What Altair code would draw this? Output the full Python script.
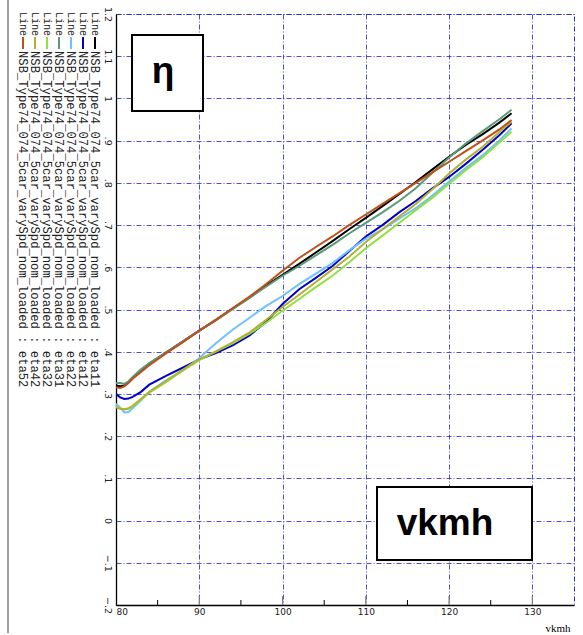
import altair as alt
import pandas as pd

# ---- data ----
x_vals = [80, 80.5, 81, 81.5, 82, 83, 84, 86, 88, 90, 92, 94, 96, 98, 100, 102, 104,
          106, 108, 110, 112, 114, 116, 118, 120, 122, 124, 126, 127.5]

eta11 = [.320, .318, .320, .328, .338, .357, .372, .398, .424, .450, .475, .502, .528, .556, .582,
         .608, .635, .662, .690, .717, .745, .773, .802, .832, .862, .890, .915, .942, .965]
eta12 = [.300, .292, .288, .289, .293, .305, .322, .343, .362, .382, .397, .415, .438, .470, .513,
         .548, .575, .603, .638, .673, .700, .730, .757, .787, .814, .845, .878, .912, .941]
eta22 = [.277, .268, .256, .257, .266, .285, .305, .332, .355, .385, .420, .452, .480, .508, .532,
         .560, .585, .610, .640, .668, .690, .715, .740, .770, .803, .835, .865, .900, .929]
eta31 = [.326, .326, .324, .330, .340, .358, .373, .398, .424, .450, .475, .501, .527, .554, .580,
         .603, .628, .653, .680, .705, .730, .757, .787, .824, .860, .893, .922, .950, .973]
eta32 = [.272, .266, .263, .265, .270, .287, .303, .328, .355, .380, .400, .420, .442, .468, .497,
         .525, .553, .580, .612, .645, .675, .705, .735, .765, .798, .830, .860, .895, .921]
eta42 = [.268, .265, .264, .266, .272, .288, .305, .330, .357, .382, .401, .422, .445, .475, .506,
         .535, .565, .595, .625, .660, .690, .720, .750, .785, .822, .855, .885, .920, .945]
eta52 = [.315, .314, .318, .326, .336, .352, .368, .396, .422, .450, .476, .503, .530, .560, .592,
         .622, .648, .673, .700, .725, .750, .775, .800, .825, .850, .875, .900, .926, .949]

series_keys = ["eta11", "eta12", "eta22", "eta31", "eta32", "eta42", "eta52"]
series_vals = [eta11, eta12, eta22, eta31, eta32, eta42, eta52]
series_names = ["NSB_Type74_074_5car_varySpd_nom_loaded : " + k for k in series_keys]
series_colors = ["#000000", "#0000c8", "#70c0ff", "#5a9a78", "#90e040", "#b5b030", "#c0501a"]

x_ticks = [80, 90, 100, 110, 120, 130]
x_minor = [85, 95, 105, 115, 125]
y_ticks = [-0.2, -0.1, 0, 0.1, 0.2, 0.3, 0.4, 0.5, 0.6, 0.7, 0.8, 0.9, 1.0, 1.1, 1.2]

# ---- build table ----
rows = []
for name, vals in zip(series_names, series_vals):
    for xv, yv in zip(x_vals, vals):
        rows.append({"series": name, "x": xv, "y": yv})
df = pd.DataFrame(rows)

W, H = 458, 591
xscale = alt.Scale(domain=[80, 135], nice=False, zero=False)
yscale = alt.Scale(domain=[-0.2, 1.2], nice=False, zero=False)

ylabel_expr = ("datum.value == 0 ? '0' : (abs(datum.value) < 1 ? "
               "(datum.value < 0 ? '\u2212' : '') + substring(format(abs(datum.value), '.1f'), 1) "
               ": format(datum.value, '.1~f'))")

lines = alt.Chart(df).mark_line(strokeWidth=2, clip=True).encode(
    x=alt.X("x:Q", scale=xscale,
            axis=alt.Axis(values=x_ticks, title="vkmh", labelFlush=True, ticks=False, tickSize=0,
                          labelPadding=2, labelFont="DejaVu Sans", labelFontSize=9, labelColor="#222",
                          domainColor="black", domainWidth=1.3,
                          grid=True, gridColor="#3030c8", gridDash=[5, 2, 1, 2], gridOpacity=0.85,
                          titleFont="Liberation Serif", titleFontWeight="normal", titleFontSize=11,
                          titleColor="black", titleX=454, titleY=26, titleAlign="right",
                          titleBaseline="alphabetic")),
    y=alt.Y("y:Q", scale=yscale,
            axis=alt.Axis(values=y_ticks, title=None, labelExpr=ylabel_expr, labelAngle=90,
                          labelAlign="center", labelBaseline="top", ticks=False, tickSize=0,
                          labelPadding=4, labelFont="DejaVu Sans", labelFontSize=9.5, labelColor="#222",
                          domainColor="black", domainWidth=1.3,
                          grid=True, gridColor="#3030c8", gridDash=[5, 2, 1, 2], gridOpacity=0.85)),
    color=alt.Color("series:N", scale=alt.Scale(domain=series_names, range=series_colors), legend=None),
    detail="series:N",
)

major_df = pd.DataFrame({"x": x_ticks[1:]})
minor_df = pd.DataFrame({"x": x_minor})
major_ticks = alt.Chart(major_df).mark_rule(color="#808080", strokeWidth=1.3).encode(
    x=alt.X("x:Q", scale=xscale), y=alt.value(H - 9), y2=alt.value(H))
minor_ticks = alt.Chart(minor_df).mark_rule(color="black", strokeWidth=1).encode(
    x=alt.X("x:Q", scale=xscale), y=alt.value(H - 5), y2=alt.value(H))

layers = [lines, major_ticks, minor_ticks]

# annotation boxes
layers.append(alt.Chart().mark_rect(fill="white", stroke="black", strokeWidth=2).encode(
    x=alt.value(16), x2=alt.value(87), y=alt.value(21), y2=alt.value(97)))
layers.append(alt.Chart().mark_text(text="\u03b7", font="Liberation Sans", fontSize=37,
                                    fontWeight="bold", align="center", baseline="alphabetic",
                                    color="black").encode(x=alt.value(47), y=alt.value(69)))
layers.append(alt.Chart().mark_rect(fill="white", stroke="black", strokeWidth=2).encode(
    x=alt.value(261), x2=alt.value(416), y=alt.value(473), y2=alt.value(546)))
layers.append(alt.Chart().mark_text(text="vkmh", font="Liberation Sans", fontSize=37,
                                    fontWeight="bold", align="center", baseline="alphabetic",
                                    color="black").encode(x=alt.value(329), y=alt.value(521)))

# gray border on the far left
layers.append(alt.Chart().mark_rule(color="#a0a0a0", strokeWidth=2).encode(
    x=alt.value(-108), y=alt.value(-14), y2=alt.value(619)))

# rotated legend
for i, (name, col) in enumerate(zip(series_names, series_colors)):
    xc = -21 - 12 * i
    layers.append(alt.Chart().mark_text(text="Line", angle=90, align="left", baseline="middle",
                                        font="Liberation Mono", fontSize=10, color="#222").encode(
        x=alt.value(xc), y=alt.value(-2)))
    layers.append(alt.Chart().mark_rule(color=col, strokeWidth=2).encode(
        x=alt.value(xc), y=alt.value(23), y2=alt.value(35)))
    layers.append(alt.Chart().mark_text(text=name, angle=90, align="left", baseline="middle",
                                        font="Liberation Mono", fontSize=12.2, color="#222").encode(
        x=alt.value(xc), y=alt.value(37)))

chart = alt.layer(*layers).properties(
    width=W, height=H,
    autosize=alt.AutoSizeParams(type="none"),
    padding={"left": 116, "top": 14, "right": 9, "bottom": 30},
    background="white",
).configure_view(stroke="#3030c8", strokeDash=[5, 2, 1, 2], strokeWidth=1)

chart.save("out.html", embed_options={"renderer": "svg", "actions": False})
